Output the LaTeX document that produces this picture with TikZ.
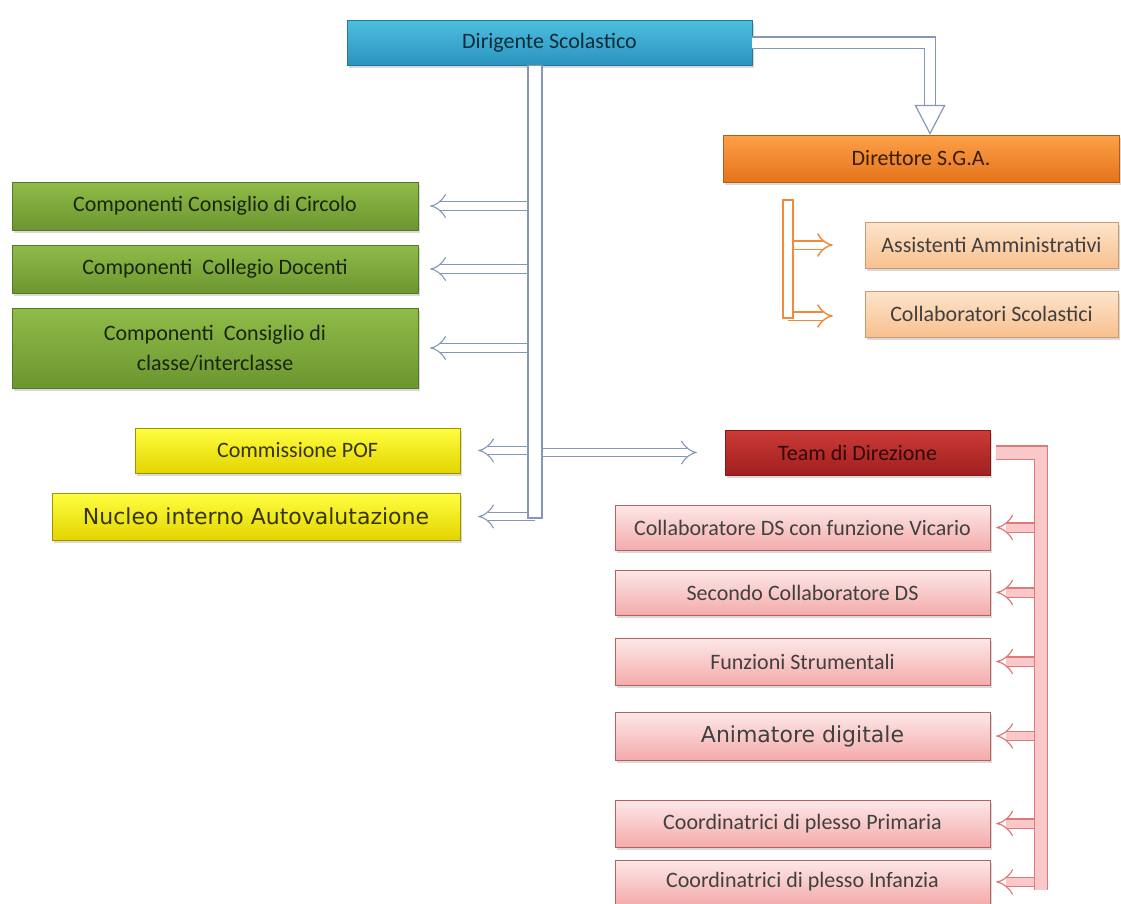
\documentclass[tikz,border=0pt]{standalone}
\usepackage{fontspec}
\setmainfont{Carlito}
\newfontfamily\dejavu{DejaVu Sans}
\usetikzlibrary{shapes, positioning, arrows.meta, shadows, calc}

\definecolor{dsTop}{HTML}{4DBFE0}
\definecolor{dsBot}{HTML}{2B93BE}
\definecolor{grTop}{HTML}{8FBC48}
\definecolor{grBot}{HTML}{6B9630}
\definecolor{sgTop}{HTML}{FDA048}
\definecolor{sgBot}{HTML}{E4741A}
\definecolor{loTop}{HTML}{FDE4CC}
\definecolor{loBot}{HTML}{F9C08E}
\definecolor{yeTop}{HTML}{FFFF40}
\definecolor{yeBot}{HTML}{E2D400}
\definecolor{tdTop}{HTML}{CB3B37}
\definecolor{tdBot}{HTML}{A11F1F}
\definecolor{pkTop}{HTML}{FDE8E8}
\definecolor{pkBot}{HTML}{F4ABAB}
\definecolor{lnBlue}{HTML}{8497B8}
\definecolor{lnOrange}{HTML}{F08A3C}
\definecolor{lnPink}{HTML}{E07A7A}
\definecolor{inPink}{HTML}{FAC8C8}

\begin{document}
\begin{tikzpicture}[x=1pt, y=-1pt,
  box/.style={draw, thin, minimum height=45pt, inner sep=4pt, font=\fontsize{22}{30}\selectfont, text=black!80, drop shadow={shadow xshift=2pt, shadow yshift=-3pt, opacity=0.3}},
  dsbox/.style={box, draw=dsBot!80!black, top color=dsTop, bottom color=dsBot, text=dsBot!30!black},
  grbox/.style={box, draw=grBot!80!black, top color=grTop, bottom color=grBot, text=grBot!25!black, minimum width=406pt, minimum height=48pt},
  sgbox/.style={box, draw=sgBot!80!black, top color=sgTop, bottom color=sgBot, text=sgBot!25!black},
  lobox/.style={box, draw=loBot!80!black, top color=loTop, bottom color=loBot, text=black!75, minimum width=253pt, minimum height=46pt},
  yebox/.style={box, draw=yeBot!70!black, top color=yeTop, bottom color=yeBot, text=yeBot!25!black},
  tdbox/.style={box, draw=tdBot!80!black, top color=tdTop, bottom color=tdBot, text=tdBot!30!black, minimum width=265pt},
  pkbox/.style={box, draw=lnPink!80!black, top color=pkTop, bottom color=pkBot, text=black!75, minimum width=375pt},
  bltrunk/.style={draw=lnBlue, line width=1.1pt, fill=white},
  blarrow/.style={draw=lnBlue, line width=1.1pt, double=white, double distance=7.5pt, -{Implies}},
  ortrunk/.style={draw=lnOrange, line width=1.4pt, fill=white},
  orarrow/.style={draw=lnOrange, line width=1.4pt, double=white, double distance=7pt, -{Implies}},
  pktrunk/.style={draw=lnPink, line width=1.2pt, double=inPink, double distance=12pt},
  pkarrow/.style={draw=lnPink, line width=1.2pt, double=inPink, double distance=8pt, -{Implies}}]
\useasboundingbox (0,0) rectangle (1121,903);

% vertici
\node[dsbox, minimum width=405pt] (DS) at (549.5,42.5) {Dirigente Scolastico};
\node[sgbox, minimum width=396pt, minimum height=47pt] (SGA) at (921,158.5) {Direttore S.G.A.};
\node[lobox] (AA) at (991.5,245) {Assistenti Amministrativi};
\node[lobox] (CS) at (991.5,314) {Collaboratori Scolastici};

% organi collegiali
\node[grbox] (CCC) at (215,206) {Componenti Consiglio di Circolo};
\node[grbox] (CCD) at (215,269) {Componenti\ \ Collegio Docenti};
\node[grbox, minimum height=80pt, align=center] (CCI) at (215,348) {Componenti\ \ Consiglio di\\classe/interclasse};
\node[yebox, minimum width=325pt] (POF) at (297.5,450.5) {Commissione POF};
\node[yebox, minimum width=408pt, minimum height=47pt, font=\dejavu\fontsize{22}{26}\selectfont] (NIA) at (256,516.5) {Nucleo interno Autovalutazione};

% team
\node[tdbox] (TD) at (857.5,452.5) {Team di Direzione};
\node[pkbox] (P1) at (802.5,527.5) {Collaboratore DS con funzione Vicario};
\node[pkbox] (P2) at (802.5,592.5) {Secondo Collaboratore DS};
\node[pkbox, minimum height=47pt] (P3) at (802.5,661.5) {Funzioni Strumentali};
\node[pkbox, minimum height=48pt, font=\dejavu\fontsize{22}{26}\selectfont] (P4) at (802.5,736) {Animatore digitale};
\node[pkbox, minimum height=47pt] (P5) at (802.5,823.5) {Coordinatrici di plesso Primaria};
\node[pkbox, minimum height=44pt] (P6) at (802.5,882) {Coordinatrici di plesso Infanzia};

% punti di appoggio
\coordinate (trk) at (535,518);
\coordinate (sgx) at (930,0);
\coordinate (ortop) at (788,200);
\coordinate (orbot) at (788,318);
\coordinate (pkbot) at (1041,890);

% DS -> DSGA
\draw[draw=lnBlue, line width=1.2pt, double=white, double distance=10pt, -{Triangle[open, fill=white, length=30pt, width=31pt]}] (DS.east) -| (SGA.north -| sgx);

% rami blu
\draw[blarrow] (CCC.east -| trk) -- ([xshift=12pt]CCC.east);
\draw[blarrow] (CCD.east -| trk) -- ([xshift=12pt]CCD.east);
\draw[blarrow] (CCI.east -| trk) -- ([xshift=12pt]CCI.east);
\draw[blarrow] (POF.east -| trk) -- ([xshift=18pt]POF.east);
\draw[blarrow] (NIA.east -| trk) -- ([xshift=18pt]NIA.east);
\draw[blarrow] (TD.west -| trk) -- ([xshift=-28pt]TD.west);
\draw[bltrunk] ([xshift=-7pt]DS.south -| trk) rectangle ([xshift=7pt]trk);

% rami arancio
\draw[orarrow] (AA.west -| ortop) -- ([xshift=-32pt]AA.west);
\draw[orarrow] ([yshift=-2pt]CS.west -| ortop) -- ([xshift=-32pt, yshift=-2pt]CS.west);
\draw[ortrunk] ([xshift=-5pt]ortop) rectangle ([xshift=5pt]orbot);

% rami rosa
\draw[pkarrow] (P1.east -| pkbot) -- ([xshift=6pt]P1.east);
\draw[pkarrow] (P2.east -| pkbot) -- ([xshift=6pt]P2.east);
\draw[pkarrow] (P3.east -| pkbot) -- ([xshift=6pt]P3.east);
\draw[pkarrow] (P4.east -| pkbot) -- ([xshift=6pt]P4.east);
\draw[pkarrow] (P5.east -| pkbot) -- ([xshift=6pt]P5.east);
\draw[pkarrow] (P6.east -| pkbot) -- ([xshift=6pt]P6.east);
\draw[pktrunk] ([xshift=6pt]TD.east) -| (pkbot);
\end{tikzpicture}
\end{document}
